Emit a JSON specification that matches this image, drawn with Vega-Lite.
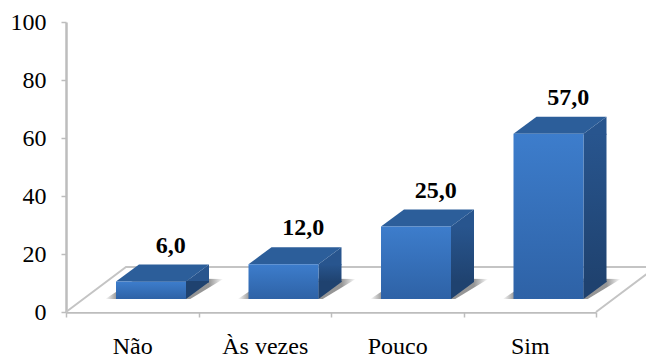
{
  "$schema": "https://vega.github.io/schema/vega-lite/v6.json",
  "autosize": {"type": "none"},
  "padding": {"left": 66, "top": 22, "right": 50, "bottom": 46},
  "width": 530,
  "height": 290,
  "background": "white",
  "config": {"view": {"stroke": null}},
  "data": {"values": [
    {"categoria": "Não", "valor": 6},
    {"categoria": "Às vezes", "valor": 12},
    {"categoria": "Pouco", "valor": 25},
    {"categoria": "Sim", "valor": 57}
  ]},
  "transform": [{"calculate": "replace(format(datum.valor, '.1f'), '.', ',')", "as": "rotulo"}],
  "encoding": {
    "x": {
      "field": "categoria",
      "type": "nominal",
      "sort": null,
      "scale": {"paddingInner": 0, "paddingOuter": 0},
      "axis": {
        "title": null,
        "tickBand": "extent",
        "labelAngle": 0,
        "labelFont": "Liberation Serif",
        "labelFontSize": 24,
        "labelColor": "black",
        "labelPadding": 17,
        "tickSize": 5,
        "tickColor": "#bdbdbd",
        "tickWidth": 1.5,
        "domainColor": "#bdbdbd",
        "domainWidth": 2.5,
        "grid": false
      }
    },
    "y": {
      "type": "quantitative",
      "field": "valor",
      "scale": {"domain": [0, 100], "nice": false},
      "axis": {
        "title": null,
        "values": [0, 20, 40, 60, 80, 100],
        "labelFont": "Liberation Serif",
        "labelFontSize": 24,
        "labelColor": "black",
        "labelPadding": 15,
        "tickSize": 5,
        "tickColor": "#bdbdbd",
        "tickWidth": 1.5,
        "domainColor": "#bdbdbd",
        "domainWidth": 2.5,
        "grid": false
      }
    }
  },
  "layer": [
    {
      "description": "Piso da perspectiva, ancorado na primeira categoria",
      "transform": [{"filter": "datum.categoria === 'Não'"}],
      "mark": {
        "type": "point",
        "size": 4,
        "opacity": 1,
        "filled": true,
        "fill": "white",
        "stroke": "#c4c4c4",
        "strokeWidth": 2,
        "shape": "M-66.25 0L-6.25 -45L523.75 -45L463.75 0"
      },
      "encoding": {"y": {"datum": 0}}
    },
    {
      "description": "Sombra de cada coluna sobre o piso",
      "mark": {
        "type": "point",
        "size": 4,
        "opacity": 0.9,
        "filled": true,
        "strokeWidth": 0,
        "shape": "M-27 -13L58 -13L91 -33L5 -34Z",
        "fill": {
          "x1": 0, "y1": 0, "x2": 1, "y2": 0,
          "gradient": "linear",
          "stops": [
            {"offset": 0, "color": "#ffffff"},
            {"offset": 0.1, "color": "#8a8a8a"},
            {"offset": 0.88, "color": "#8a8a8a"},
            {"offset": 1, "color": "#ffffff"}
          ]
        }
      },
      "encoding": {"y": {"datum": 0}}
    },
    {
      "description": "Face lateral: faixa central",
      "mark": {
        "type": "bar",
        "width": 23,
        "xOffset": 65.25,
        "yOffset": -13,
        "y2Offset": -30,
        "fill": {
          "x1": 0, "y1": 0, "x2": 0, "y2": 1,
          "gradient": "linear",
          "stops": [
            {"offset": 0, "color": "#28558e"},
            {"offset": 1, "color": "#1f426f"}
          ]
        }
      },
      "encoding": {"y2": {"datum": 0}}
    },
    {
      "description": "Face lateral: triângulo superior, com leve sobreposição na faixa central",
      "mark": {
        "type": "point", "size": 4, "opacity": 1, "filled": true, "strokeWidth": 0,
        "fill": "#28558e",
        "shape": "M53.75 -13L76.75 -30L76.75 -12L53.75 -12Z"
      }
    },
    {
      "description": "Face lateral: triângulo inferior, com leve sobreposição na faixa central",
      "mark": {
        "type": "point", "size": 4, "opacity": 1, "filled": true, "strokeWidth": 0,
        "fill": "#1f426f",
        "shape": "M53.75 -13L76.75 -30L76.75 -31L53.75 -31Z"
      },
      "encoding": {"y": {"datum": 0}}
    },
    {
      "description": "Face superior",
      "mark": {
        "type": "point", "size": 4, "opacity": 1, "filled": true, "strokeWidth": 0,
        "fill": "#2c5e9a",
        "shape": "M-16.25 -13L53.75 -13L76.75 -30L6.75 -30Z"
      }
    },
    {
      "description": "Face frontal",
      "mark": {
        "type": "bar",
        "width": 70,
        "xOffset": 18.75,
        "yOffset": -13,
        "y2Offset": -13,
        "fill": {
          "x1": 0, "y1": 0, "x2": 0, "y2": 1,
          "gradient": "linear",
          "stops": [
            {"offset": 0, "color": "#3d7dcc"},
            {"offset": 1, "color": "#2e62a6"}
          ]
        }
      },
      "encoding": {"y2": {"datum": 0}}
    },
    {
      "description": "Rótulos de valor",
      "mark": {
        "type": "text",
        "font": "Liberation Serif",
        "fontWeight": "bold",
        "fontSize": 24,
        "color": "black",
        "dx": 38.5,
        "dy": -49,
        "baseline": "middle"
      },
      "encoding": {"text": {"field": "rotulo"}}
    }
  ]
}
